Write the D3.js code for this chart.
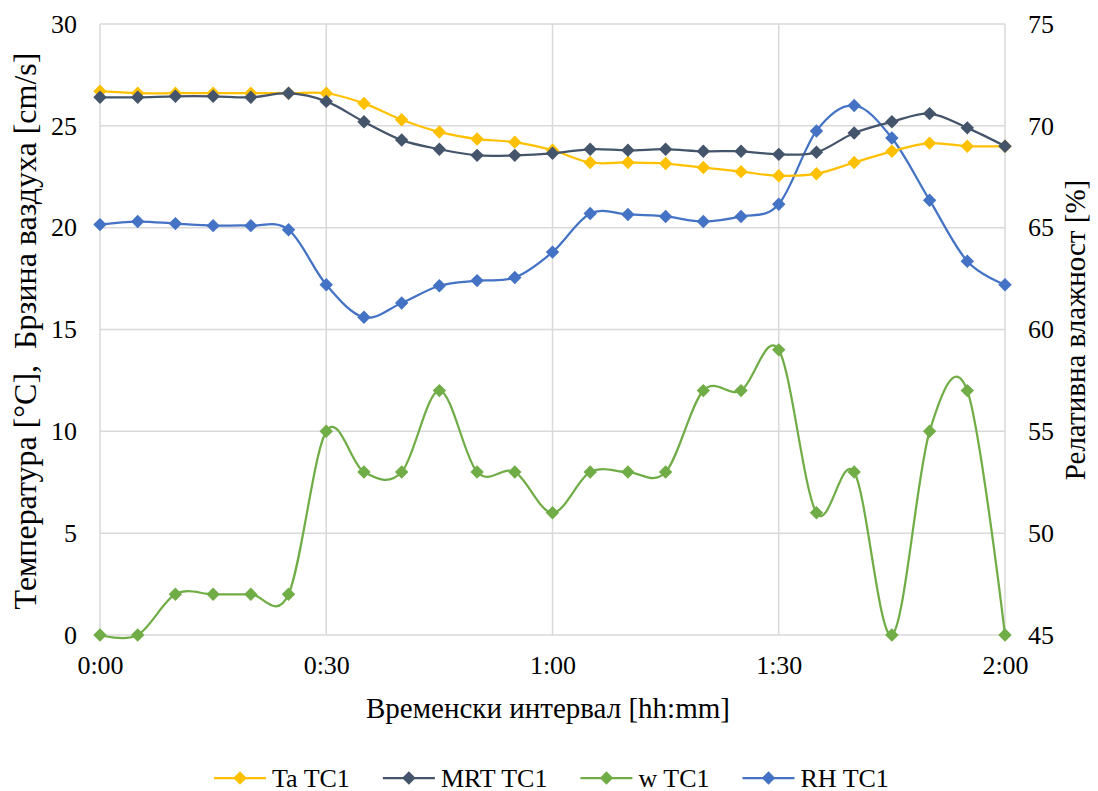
<!DOCTYPE html>
<html>
<head>
<meta charset="utf-8">
<script src="https://cdn.jsdelivr.net/npm/d3@7"></script>
</head>
<body style="margin:0;background:#fff">
<svg id="chart" width="1098" height="791"></svg>
<script>
// Time labels every 5 minutes, 0:00 – 2:00
const minutes = d3.range(0, 125, 5);
const xTickValues = [0, 30, 60, 90, 120];
const xTickLabels = ["0:00", "0:30", "1:00", "1:30", "2:00"];
const leftTicks = [0, 5, 10, 15, 20, 25, 30];
const rightTicks = [45, 50, 55, 60, 65, 70, 75];

// Air temperature [°C]
const taTC1 = [26.7, 26.6, 26.6, 26.6, 26.6, 26.6, 26.6, 26.1, 25.3, 24.7, 24.35, 24.2, 23.8,
               23.2, 23.2, 23.15, 22.95, 22.75, 22.55, 22.65, 23.2, 23.75, 24.15, 24.0, 24.0];
// Mean radiant temperature [°C]
const mrtTC1 = [26.4, 26.4, 26.45, 26.45, 26.4, 26.6, 26.2, 25.2, 24.3, 23.85, 23.55, 23.55, 23.65,
                23.85, 23.8, 23.85, 23.75, 23.75, 23.6, 23.7, 24.65, 25.2, 25.6, 24.9, 24.0];
// Air velocity [cm/s]
const wTC1 = [0, 0, 2, 2, 2, 2, 10, 8, 8, 12, 8, 8, 6, 8, 8, 8, 12, 12, 14, 6, 8, 0, 10, 12, 0];
// Relative humidity [%]
const rhTC1 = [65.15, 65.3, 65.2, 65.1, 65.1, 64.9, 62.2, 60.6, 61.3, 62.15, 62.4, 62.55, 63.8,
               65.7, 65.65, 65.55, 65.3, 65.55, 66.15, 69.75, 71.0, 69.4, 66.35, 63.35, 62.2];

const seriesNames = ["Ta TC1", "MRT TC1", "w TC1", "RH TC1"];
const seriesColors = ["#FFC000", "#44546A", "#70AD47", "#4472C4"];

const FONT = "'Liberation Serif'";
const FS = 26;        // tick labels and legend
const FS_TITLE = 29;  // axis titles
const svg = d3.select("#chart");
const plot = { left: 100, right: 1005, top: 24, bottom: 635 };

const x = d3.scaleLinear().domain([0, 120]).range([plot.left, plot.right]);
const yL = d3.scaleLinear().domain([0, 30]).range([plot.bottom, plot.top]);
const yR = d3.scaleLinear().domain([45, 75]).range([plot.bottom, plot.top]);

function label(sel, size = FS) {
  return sel.attr("font-family", FONT).attr("font-size", size).attr("fill", "#000");
}

// Gridlines
const grid = svg.append("g");
grid.selectAll("line.h").data(leftTicks).join("line")
  .attr("x1", plot.left).attr("x2", plot.right)
  .attr("y1", d => yL(d)).attr("y2", d => yL(d))
  .attr("stroke", "#D9D9D9").attr("stroke-width", 1.5);
grid.selectAll("line.v").data(xTickValues).join("line")
  .attr("y1", plot.top).attr("y2", plot.bottom)
  .attr("x1", d => x(d)).attr("x2", d => x(d))
  .attr("stroke", "#D9D9D9").attr("stroke-width", 1.5);

// Axes (labels only)
const axL = svg.append("g").attr("transform", `translate(${plot.left},0)`)
  .call(d3.axisLeft(yL).tickValues(leftTicks).tickSize(0).tickPadding(23));
const axR = svg.append("g").attr("transform", `translate(${plot.right},0)`)
  .call(d3.axisRight(yR).tickValues(rightTicks).tickSize(0).tickPadding(23));
const axB = svg.append("g").attr("transform", `translate(0,${plot.bottom})`)
  .call(d3.axisBottom(x).tickValues(xTickValues).tickFormat((d, i) => xTickLabels[i])
    .tickSize(0).tickPadding(21));
[axL, axR, axB].forEach(a => {
  a.attr("font-family", FONT).attr("font-size", FS);
  a.select(".domain").remove();
  label(a.selectAll("text"));
});

// Axis titles
const leftTitle = label(svg.append("text"), FS_TITLE)
  .attr("text-anchor", "middle")
  .attr("transform", `translate(36,331) rotate(-90)`)
  .text("Температура [°C],\u00A0 Брзина ваздуха [cm/s]");
// the left title runs along almost the whole plot height
const leftLen = leftTitle.node().getComputedTextLength();
leftTitle.attr("font-size", FS_TITLE * 557 / leftLen);

label(svg.append("text"), FS_TITLE)
  .attr("text-anchor", "middle")
  .attr("transform", `translate(1085,330) rotate(-90)`)
  .text("Релативна влажност [%]");
label(svg.append("text"), FS_TITLE)
  .attr("text-anchor", "middle")
  .attr("x", 548).attr("y", 718)
  .text("Временски интервал [hh:mm]");

// Series
const series = [
  { values: taTC1, scale: yL },
  { values: mrtTC1, scale: yL },
  { values: wTC1, scale: yL },
  { values: rhTC1, scale: yR }
];
const diamond = d3.symbol().type(d3.symbolDiamond2).size(115);

const drawOrder = [3, 2, 0, 1];
drawOrder.forEach(i => {
  const s = series[i];
  const pts = s.values.map((v, j) => [x(minutes[j]), s.scale(v)]);
  const line = d3.line().curve(d3.curveCatmullRom.alpha(0));
  svg.append("path").attr("d", line(pts))
    .attr("fill", "none").attr("stroke", seriesColors[i]).attr("stroke-width", 2.25);
  svg.append("g").selectAll("path").data(pts).join("path")
    .attr("transform", d => `translate(${d[0]},${d[1]})`)
    .attr("d", diamond).attr("fill", seriesColors[i]);
});

// Legend: line + marker, label, laid out left to right
const legendY = 778;
let lx = 214;
seriesNames.forEach((name, i) => {
  const g = svg.append("g").attr("transform", `translate(${lx},${legendY})`);
  g.append("line").attr("x1", 0).attr("x2", 52).attr("y1", 0).attr("y2", 0)
    .attr("stroke", seriesColors[i]).attr("stroke-width", 2.25);
  g.append("path").attr("transform", "translate(26,0)").attr("d", diamond).attr("fill", seriesColors[i]);
  const t = label(g.append("text")).attr("x", 58).attr("y", 8.5).text(name);
  lx += 58 + t.node().getComputedTextLength() + 33;
});
</script>
</body>
</html>
